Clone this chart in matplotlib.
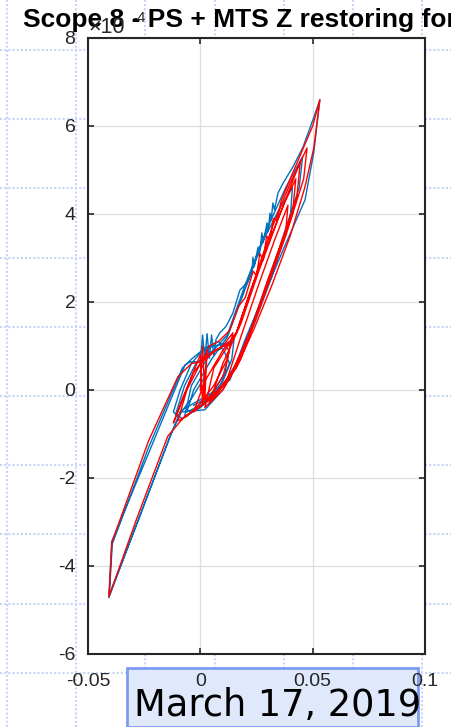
import numpy as np
import matplotlib.pyplot as plt
from matplotlib.lines import Line2D
from matplotlib.patches import Rectangle

# displacement (x) and restoring force (y, in units of 1e-4)
blue_x = [0.002, -0.004, -0.010, -0.012, -0.009, -0.004, 0.001, 0.006, 0.011, 0.015, 0.014, 0.010, 0.004, -0.002, -0.008,
          -0.011, -0.007, -0.002, 0.004, 0.010, 0.013, 0.008, 0.000, -0.006,
          -0.003, 0.005, 0.012, 0.020, 0.028, 0.035, 0.041, 0.040, 0.032, 0.024, 0.016, 0.008, 0.000, -0.007,
          -0.004, 0.004, 0.012, 0.020, 0.030, 0.038, 0.0455, 0.044, 0.035, 0.026, 0.018, 0.010, 0.002, -0.009,
          -0.013, -0.0273, -0.0407, -0.0395, -0.0224, -0.0068, -0.0046, 0.000,
          0.001, 0.002, 0.003, 0.004, 0.005, 0.006, 0.007, 0.0087, 0.0115, 0.0145, 0.0176, 0.021, 0.0230,
          0.0234, 0.0240, 0.0257, 0.0262, 0.0274, 0.0280, 0.0297, 0.0302, 0.0310, 0.0315, 0.0323, 0.0330,
          0.0346, 0.0368, 0.0412, 0.0457, 0.0501, 0.0532,
          0.0505, 0.0466, 0.0368, 0.0274, 0.0199, 0.0132, 0.004, -0.008, -0.0135, -0.0275, -0.0405,
          -0.0392, -0.0230, -0.0080, -0.004, 0.002, 0.008, 0.013, 0.010, 0.004, -0.003]
blue_y = [0.3, -0.2, -0.6, -0.5, 0.0, 0.6, 0.9, 1.0, 1.05, 1.15, 0.7, 0.2, -0.2, -0.45, -0.65,
          -0.55, 0.1, 0.6, 0.85, 0.95, 0.6, 0.0, -0.35, -0.5,
          0.0, 0.7, 1.2, 2.3, 3.4, 4.1, 4.6, 3.9, 2.6, 1.5, 0.6, -0.05, -0.4, -0.6,
          0.1, 0.8, 1.25, 2.4, 3.7, 4.6, 5.3, 4.6, 3.2, 1.9, 0.8, 0.0, -0.45, -0.5,
          -1.0, -2.9, -4.72, -3.45, -1.36, 0.57, 0.64, 0.64,
          1.25, 0.70, 1.28, 0.72, 1.25, 0.80, 1.15, 1.3, 1.45, 1.75, 2.27, 2.45, 2.66,
          3.02, 2.80, 3.25, 3.05, 3.57, 3.35, 3.80, 3.60, 4.02, 3.85, 4.25, 4.10,
          4.48, 4.70, 5.07, 5.52, 6.14, 6.59,
          5.40, 4.32, 3.18, 2.05, 1.14, 0.23, -0.1, -0.45, -1.05, -2.95, -4.65,
          -3.5, -1.30, 0.50, 0.70, 0.95, 1.1, 0.9, 0.3, -0.15, -0.35]

red_x = [0.000, 0.001, 0.002, 0.003, 0.001, 0.000, -0.004, -0.010, -0.012, -0.008, -0.003, 0.003, 0.010, 0.0145,
         0.012, 0.006, 0.000, -0.006, -0.010, -0.006, 0.000, 0.007, 0.0135, 0.011, 0.004, -0.003,
         0.002, 0.010, 0.016, 0.022, 0.030, 0.037, 0.0425, 0.041, 0.034, 0.026, 0.018, 0.010, 0.002,
         0.006, 0.016, 0.024, 0.032, 0.040, 0.0475, 0.046, 0.038, 0.028, 0.020, 0.012, 0.004,
         0.010, 0.018, 0.026, 0.034, 0.0445, 0.043, 0.035, 0.027, 0.019, 0.011,
         0.018, 0.026, 0.033, 0.039, 0.038, 0.030, 0.022, 0.014,
         0.005, -0.007, -0.0145, -0.0285, -0.0407, -0.0393, -0.023, -0.010, -0.004, 0.001,
         0.004, 0.008, 0.013, 0.017, 0.020, 0.0235, 0.025, 0.0265, 0.028, 0.0295, 0.031, 0.0325, 0.034,
         0.036, 0.040, 0.045, 0.050, 0.0532,
         0.0505, 0.0465, 0.040, 0.032, 0.024, 0.016, 0.008, 0.000]
red_y = [0.0, 1.0, -0.2, 0.9, -0.3, 0.8, 0.3, -0.5, -0.75, -0.2, 0.4, 0.8, 1.0, 1.3,
         0.7, 0.1, -0.3, -0.6, -0.7, 0.0, 0.6, 0.9, 1.1, 0.4, -0.2, -0.5,
         0.2, 0.9, 1.3, 2.2, 3.3, 4.2, 4.8, 4.0, 3.0, 1.8, 0.7, 0.0, -0.4,
         0.5, 1.3, 2.5, 3.7, 4.7, 5.5, 4.8, 3.5, 2.1, 1.0, 0.2, -0.3,
         0.6, 1.5, 2.7, 3.8, 5.2, 4.4, 3.2, 2.0, 0.9, 0.1,
         1.2, 2.4, 3.4, 4.2, 3.6, 2.5, 1.3, 0.4,
         -0.2, -0.6, -1.05, -2.95, -4.70, -3.45, -1.15, 0.3, 0.6, 0.65,
         1.0, 1.1, 1.35, 1.9, 2.1, 2.7, 2.6, 3.1, 2.95, 3.5, 3.4, 3.9, 3.85,
         4.3, 4.8, 5.4, 6.0, 6.6,
         5.5, 4.6, 3.5, 2.4, 1.4, 0.5, 0.0, -0.3]

x_ticks = [-0.05, 0, 0.05, 0.1]
x_ticklabels = ['-0.05', '0', '0.05', '0.1']
y_ticks = [-6, -4, -2, 0, 2, 4, 6, 8]

W, H = 452, 727
plt.rcParams['font.family'] = ['Liberation Sans', 'DejaVu Sans']
plt.rcParams['axes.unicode_minus'] = False
fig = plt.figure(figsize=(W / 100, H / 100), dpi=100)

# notebook style dotted background grid
gcol = '#c9d5f7'
for px in np.arange(7, W, 69.2):
    fig.add_artist(Line2D([px / W, px / W], [0, 1], color=gcol, lw=1.5, ls=(0, (1, 1)), zorder=-3))
for py in np.arange(50, H, 69.2):
    fig.add_artist(Line2D([0, 1], [1 - py / H, 1 - py / H], color=gcol, lw=1.5, ls=(0, (1, 1)), zorder=-3))

ax = fig.add_axes([88 / W, 1 - 654 / H, 337 / W, 616 / H])
ax.set_facecolor('white')
ax.plot(blue_x, blue_y, color='#0072BD', lw=1.0)
ax.plot(red_x, red_y, color='#FF0000', lw=1.0)

ax.set_xlim(-0.05, 0.1)
ax.set_ylim(-6, 8)
ax.set_xticks(x_ticks)
ax.set_xticklabels(x_ticklabels)
ax.set_yticks(y_ticks)
ax.grid(True, color='#dedede', lw=0.9)
ax.set_axisbelow(True)
ax.tick_params(direction='in', length=4, width=1.2, top=True, right=True,
               labelsize=14, colors='#262626')
ax.tick_params(axis='x', pad=14)
ax.tick_params(axis='y', pad=9)
for s in ax.spines.values():
    s.set_linewidth(1.5)
    s.set_color('#262626')

fig.text(23 / W, 1 - 27 / H, 'Scope 8 - PS + MTS Z restoring force', fontsize=19,
         fontweight='bold', color='black', va='baseline', ha='left', zorder=5)

# exponent label (y values are in 1e-4)
fig.text(89 / W, 1 - 33 / H, '\u00d710', fontsize=15.5, color='#262626', va='baseline', zorder=6)
fig.text(132 / W, 1 - 22 / H, '-4', fontsize=11, color='#262626', va='baseline', zorder=6)

# date stamp box
fig.add_artist(Rectangle((127 / W, 0), 291 / W, (727 - 668) / H, facecolor='#e0e8fc',
                         edgecolor='#7d9bf0', lw=2, zorder=-1))
fig.text(278 / W, 1 - 716 / H, 'March 17, 2019', fontsize=26.5, color='black',
         ha='center', va='baseline', family='DejaVu Sans', zorder=-0.5)

plt.savefig('out.png', dpi=100)
